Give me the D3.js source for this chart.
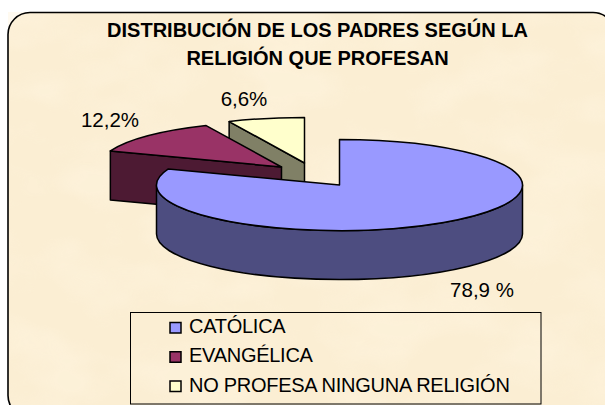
<!DOCTYPE html>
<html>
<head>
<meta charset="utf-8">
<script src="https://cdn.jsdelivr.net/npm/d3@7/dist/d3.min.js"></script>
<style>
html, body { margin: 0; padding: 0; background: #fff; }
svg { display: block; }
text { font-family: "Liberation Sans", Arial, sans-serif; fill: #000; }
</style>
</head>
<body>
<svg id="chart" width="605" height="405"></svg>
<script>
// data
const categories = ["CATÓLICA", "EVANGÉLICA", "NO PROFESA NINGUNA RELIGIÓN"];
const values = [78.9, 12.2, 6.6];
const valueLabels = ["78,9 %", "12,2%", "6,6%"];
const titleLines = ["DISTRIBUCIÓN DE LOS PADRES SEGÚN LA", "RELIGIÓN QUE PROFESAN"];

const topColors = ["#9999ff", "#993366", "#ffffcc"];
const sideColors = ["#4d4d80", "#4d1a33", "#808066"];

const svg = d3.select("#chart");
const cx = 339.5, cy = 185, rx = 183, ry = 45.5, depth = 49;
// how far each slice is pulled out of the pie
const explode = [[0, 0], [-58, -18], [-35, -22]];
const labelPos = [[482, 297], [110, 127], [244, 106]];

const defs = svg.append("defs");
const paper = defs.append("filter").attr("id", "paper")
    .attr("color-interpolation-filters", "sRGB")
    .attr("x", 0).attr("y", 0).attr("width", "100%").attr("height", "100%");
paper.append("feTurbulence")
    .attr("type", "fractalNoise").attr("baseFrequency", "0.012 0.02")
    .attr("numOctaves", 3).attr("seed", 4).attr("result", "noise");
paper.append("feColorMatrix").attr("in", "noise").attr("type", "matrix")
    .attr("values", "0 0 0 0 1  0 0 0 0 0.96  0 0 0 0 0.88  3 0 0 0 -1.2");

// frame, its right and bottom edges run off the picture
const frame = () => svg.append("rect")
    .attr("x", 8).attr("y", 12.5).attr("width", 607).attr("height", 405).attr("rx", 22);
frame().attr("fill", "#fbeed3");
frame().attr("fill", "#fff").attr("filter", "url(#paper)").attr("opacity", 0.45);
frame().attr("fill", "none").attr("stroke", "#000").attr("stroke-width", 1.6);

// title
svg.selectAll("text.title").data(titleLines).join("text")
    .attr("class", "title")
    .attr("x", 317.5).attr("y", (d, i) => 37 + i * 27.5)
    .attr("text-anchor", "middle")
    .style("font-size", "20px").style("font-weight", "bold")
    .text(d => d);

// pie
const pieData = d3.pie().sort(null)(values);
const px = a => rx * Math.sin(a);
const py = a => -ry * Math.cos(a);

function topPath(d) {
    const large = d.endAngle - d.startAngle > Math.PI ? 1 : 0;
    return `M0,0L${px(d.startAngle)},${py(d.startAngle)}` +
        `A${rx},${ry} 0 ${large} 1 ${px(d.endAngle)},${py(d.endAngle)}Z`;
}
function sidePaths(d, i) {
    if (i === 0) {
        // outer wall, only the front half of the ellipse shows
        return [`M${rx},0A${rx},${ry} 0 0 1 ${-rx},0L${-rx},${depth}A${rx},${ry} 0 0 0 ${rx},${depth}Z`];
    }
    // cut face on the start side of the exploded slices
    const x = px(d.startAngle), y = py(d.startAngle);
    return [`M0,0L${x},${y}L${x},${y + depth}L0,${depth}Z`];
}

// back slices first so the big one sits on top
[2, 1, 0].forEach(i => {
    const d = pieData[i];
    const g = svg.append("g")
        .attr("transform", `translate(${cx + explode[i][0]},${cy + explode[i][1]})`)
        .attr("stroke", "#000").attr("stroke-width", 1.5).attr("stroke-linejoin", "round");
    g.selectAll("path.side").data(sidePaths(d, i)).join("path")
        .attr("class", "side").attr("d", p => p).attr("fill", sideColors[i]);
    g.append("path").attr("d", topPath(d)).attr("fill", topColors[i]);
});

// value labels
svg.selectAll("text.value").data(valueLabels).join("text")
    .attr("class", "value")
    .attr("x", (d, i) => labelPos[i][0]).attr("y", (d, i) => labelPos[i][1])
    .attr("text-anchor", "middle")
    .style("font-size", "20.5px")
    .text(d => d);

// legend
const legend = svg.append("g");
legend.append("rect")
    .attr("x", 130.5).attr("y", 312.5).attr("width", 410.5).attr("height", 91.5)
    .attr("fill", "none").attr("stroke", "#000").attr("stroke-width", 1);
const legendY = d3.scalePoint().domain(categories).range([333, 391.5]);
categories.forEach((c, i) => {
    legend.append("rect")
        .attr("x", 170).attr("y", legendY(c) - 10.5).attr("width", 11).attr("height", 10.5)
        .attr("fill", topColors[i]).attr("stroke", "#000").attr("stroke-width", 1.5);
    legend.append("text")
        .attr("x", 189).attr("y", legendY(c))
        .style("font-size", "20px").style("letter-spacing", "-0.27px")
        .text(c);
});
</script>
</body>
</html>
